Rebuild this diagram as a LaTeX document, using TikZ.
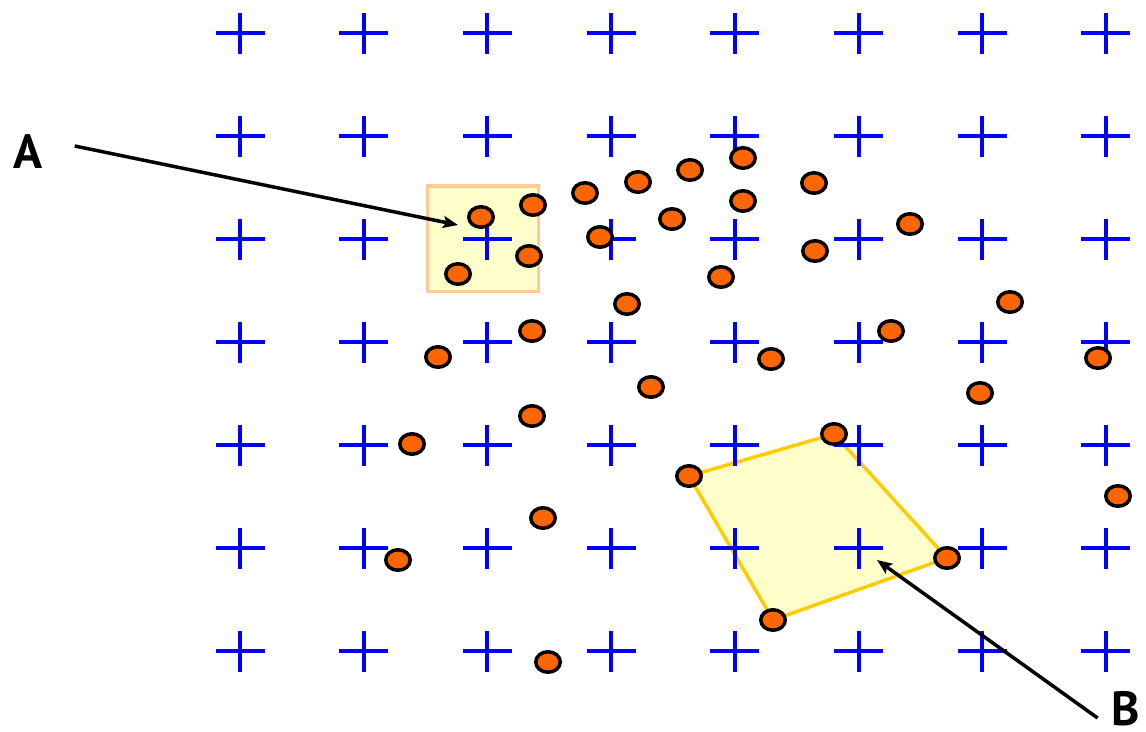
\documentclass[tikz,border=0pt]{standalone}
\usepackage{fontspec}
\newfontfamily\labelfont{PT Sans}
\usetikzlibrary{arrows.meta,shapes.geometric,backgrounds}
\definecolor{crossblue}{HTML}{0000FF}
\definecolor{dotorange}{HTML}{FF6600}
\definecolor{paleyellow}{HTML}{FFFFCC}
\definecolor{peach}{HTML}{FFCC99}
\definecolor{hullgold}{HTML}{FFCC00}

\begin{document}
\begin{tikzpicture}[
  x=1pt, y=-1pt,
  gridcross/.style={draw=crossblue, line width=4pt},
  dot/.style={ellipse, draw=black, fill=dotorange, line width=3.5pt, minimum width=24.5pt, minimum height=20.5pt, inner sep=0pt},
  boxA/.style={draw=peach, fill=paleyellow, line width=3.5pt},
  hullB/.style={draw=hullgold, fill=paleyellow, line width=3.5pt, line join=round},
  arrow/.style={-{Stealth[length=15pt, width=12pt, inset=3pt]}, line width=3.5pt},
  tag/.style={font=\labelfont\bfseries\fontsize{48}{52}\selectfont, inner sep=0pt}
]
\useasboundingbox (0,0) rectangle (1146,731);

% Grid of crosses
\foreach \i in {0,...,7}
  \foreach \j in {0,...,6}
    \draw[gridcross] ({240+123.7*\i-24.5},{33+103*\j}) -- ++(49,0)
                     ({240+123.7*\i},{33+103*\j-20.5}) -- ++(0,41);

% Labels
\node[tag] (labA) at (28,152) {A};
\node[tag] (labB) at (1126,709) {B};

% Arrow targets
\coordinate (tipA) at (458,225);
\coordinate (tipB) at (877,560);

% Arrows
\draw[arrow] ([shift={(32,-6)}]labA.east) -- (tipA);
\draw[arrow] ([shift={(-14,9)}]labB.west) -- (tipB);

% Sample points
\foreach \px/\py [count=\k] in {481/217, 533/205, 529/256, 458/274, 585/193, 600/237,
    532/331, 438/357, 638/182, 690/170, 743/158, 814/183, 743/201, 672/219,
    910/224, 815/251, 721/277, 627/304, 1010/302, 891/331, 771/359, 1098/358,
    532/416, 412/444, 543/518, 398/560, 548/662, 651/387, 980/393, 1118/496}
  \node[dot] (d\k) at (\px,\py) {};

% Corners of region B
\node[dot] (q1) at (689,476) {};
\node[dot] (q2) at (834,434) {};
\node[dot] (q3) at (947,558) {};
\node[dot] (q4) at (773,620) {};

% Regions
\begin{scope}[on background layer]
  \filldraw[boxA] (427.5,186) rectangle (538.7,291.7);
  \filldraw[hullB] (q1.center) -- (q2.center) -- (q3.center) -- (q4.center) -- cycle;
\end{scope}

\end{tikzpicture}
\end{document}
